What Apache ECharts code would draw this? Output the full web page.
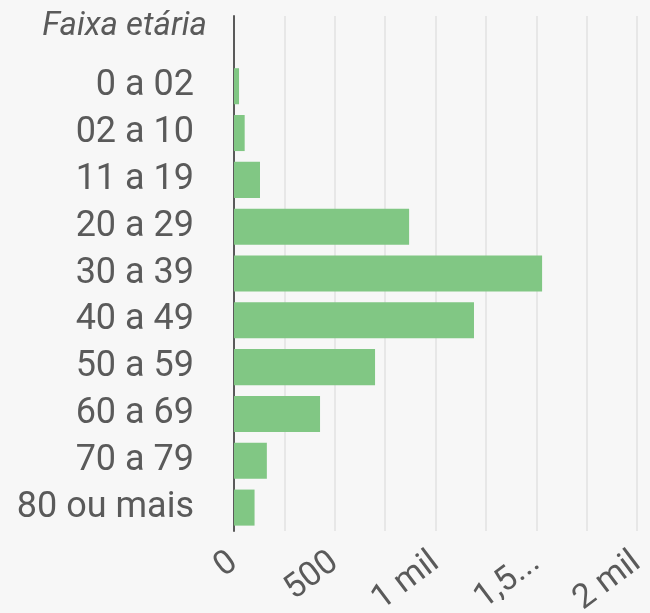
<!DOCTYPE html>
<html>
<head>
<meta charset="utf-8">
<script src="https://cdn.jsdelivr.net/npm/echarts@6/dist/echarts.min.js"></script>
<style>
html,body{margin:0;padding:0;background:#f7f7f7;}
#chart{width:650px;height:613px;}
</style>
</head>
<body>
<div id="chart"></div>
<script>
const headerLabel = 'Faixa etária';
const ageGroups = ['0 a 02','02 a 10','11 a 19','20 a 29','30 a 39','40 a 49','50 a 59','60 a 69','70 a 79','80 ou mais'];
const counts = [25, 53, 129, 869, 1529, 1191, 700, 427, 163, 102];
const tickLabels = {0:'0', 500:'500', 1000:'1 mil', 1500:'1,5...', 2000:'2 mil'};

const yCats = [''].concat(ageGroups);
const yData = [null].concat(counts);

const chart = echarts.init(document.getElementById('chart'));
chart.setOption({
  backgroundColor: '#f7f7f7',
  animation: false,
  textStyle: {fontFamily: 'Roboto'},
  title: {
    text: headerLabel,
    right: 438,
    top: 5,
    textStyle: {fontFamily: 'Roboto', fontStyle: 'italic', fontWeight: 'normal', fontSize: 33, color: '#5a5a5a'}
  },
  grid: {left: 234, right: 13, top: 16, bottom: 82, containLabel: false, outerBoundsMode: 'none'},
  xAxis: {
    type: 'value',
    min: 0, max: 2000, interval: 250,
    axisLine: {show: false},
    axisTick: {show: false},
    splitLine: {show: true, lineStyle: {color: '#e2e2e2', width: 1.5}},
    axisLabel: {
      rotate: 37,
      margin: 28,
      fontSize: 34,
      color: '#5a5a5a',
      fontFamily: 'Roboto',
      hideOverlap: false,
      formatter: v => (tickLabels[v] !== undefined ? tickLabels[v] : '')
    }
  },
  yAxis: {
    type: 'category',
    data: yCats,
    inverse: true,
    axisLine: {show: true, lineStyle: {color: '#5a5a5a', width: 2}},
    axisTick: {show: false},
    splitLine: {show: false},
    axisLabel: {interval: 0, fontSize: 36, color: '#5a5a5a', margin: 40, fontFamily: 'Roboto'}
  },
  series: [{
    type: 'bar',
    data: yData,
    barCategoryGap: '23%',
    itemStyle: {color: '#81c784'}
  }]
});
</script>
</body>
</html>
